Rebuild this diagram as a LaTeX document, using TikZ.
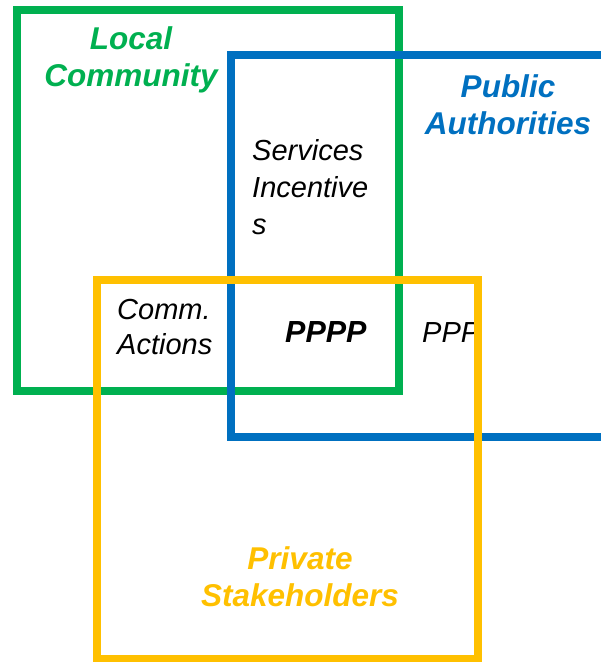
\documentclass[tikz,border=0pt]{standalone}
\usepackage{fontspec}
\setmainfont{Liberation Sans}
\definecolor{cgreen}{HTML}{00B050}
\definecolor{cblue}{HTML}{0070C0}
\definecolor{cyellow}{HTML}{FFC000}
\tikzset{
  frame/.style={line width=7.5pt},
  title/.style={font=\fontsize{31.5}{37}\selectfont\bfseries\itshape, align=center, inner sep=0pt},
  label/.style={font=\fontsize{29}{37}\selectfont\itshape, align=left, inner sep=0pt},
}
\begin{document}
\begin{tikzpicture}[x=1pt,y=-1pt]
\useasboundingbox (0,0) rectangle (601,662);
\draw[frame, cgreen] (17,10) rectangle (399,391);
\draw[frame, cblue] (640,55) -- (231,55) -- (231,437) -- (640,437);
\node[title, text=cgreen] (lc) at (131,60) {Local\\Community};
\node[title, text=cblue] (pa) at (508,105) {Public\\Authorities};
\node[label, anchor=west] (si) at (252,187) {Services\\Incentive\\s};
\node[label, anchor=west, font=\fontsize{29}{35}\selectfont\itshape] (ca) at (117,327) {Comm.\\Actions};
\node[label, anchor=base west, font=\fontsize{30.5}{30}\selectfont\bfseries\itshape] (pppp) at (285,342) {PPPP};
\node[label, anchor=base west] (ppp) at (422,342) {PPP};
\draw[frame, cyellow] (97,280) rectangle (478,659);
\node[title, text=cyellow] (ps) at (300,577) {Private\\Stakeholders};
\end{tikzpicture}
\end{document}
